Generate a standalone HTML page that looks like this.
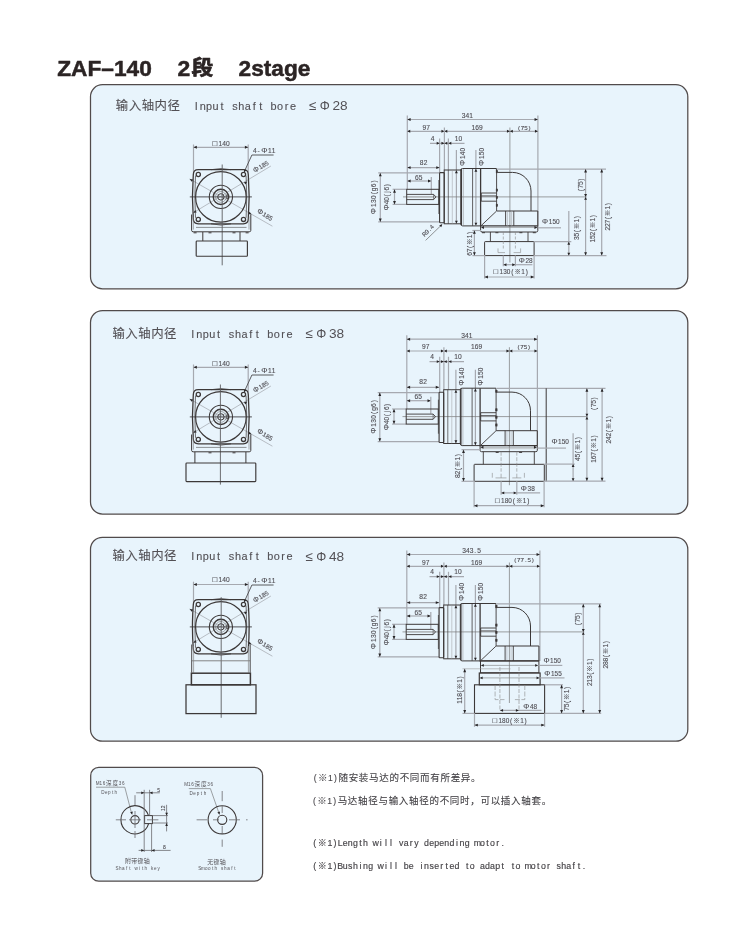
<!DOCTYPE html>
<html lang="zh-CN">
<head>
<meta charset="utf-8">
<title>ZAF-140 2段 2stage</title>
<style>
html,body{margin:0;padding:0;background:#fff;}
body{width:750px;height:927px;overflow:hidden;font-family:"Liberation Sans","Noto Sans CJK SC",sans-serif;}
svg{display:block;}
text{white-space:pre;}
</style>
</head>
<body>
<svg width="750" height="927" viewBox="0 0 750 927" font-family='"Liberation Sans","Noto Sans CJK SC",sans-serif'>
<defs><filter id="soft" x="0" y="0" width="100%" height="100%" filterUnits="userSpaceOnUse" color-interpolation-filters="sRGB"><feGaussianBlur stdDeviation="0.55"/></filter><filter id="soft2" x="0" y="0" width="100%" height="100%" filterUnits="userSpaceOnUse" color-interpolation-filters="sRGB"><feGaussianBlur stdDeviation="0.4"/></filter></defs>
<rect width="750" height="927" fill="#fff"/>
<g filter="url(#soft2)">
<text x="57.2" y="75.5" font-size="22.9" text-anchor="start" font-weight="bold" textLength="94.6" lengthAdjust="spacingAndGlyphs" stroke="#2b2424" stroke-width="0.5" stroke-linejoin="round" fill="#2b2424">ZAF–140</text>
<text x="177.6" y="75.5" font-size="22.9" font-weight="bold" stroke="#2b2424" stroke-width="0.5" stroke-linejoin="round" fill="#2b2424">2<tspan x="191.4" y="75.1" font-size="20.6" stroke-width="0.75" textLength="21.8" lengthAdjust="spacingAndGlyphs">段</tspan></text>
<text x="238.6" y="75.5" font-size="22.9" text-anchor="start" font-weight="bold" textLength="71.8" lengthAdjust="spacingAndGlyphs" stroke="#2b2424" stroke-width="0.5" stroke-linejoin="round" fill="#2b2424">2stage</text>
<rect x="90.5" y="84.7" width="597.3" height="204.1" rx="12" fill="#e8f4fc" stroke="#514b4b" stroke-width="1.25"/>
<rect x="90.5" y="310.5" width="597.3" height="203.5" rx="12" fill="#e8f4fc" stroke="#514b4b" stroke-width="1.25"/>
<rect x="90.5" y="537.3" width="597.3" height="203.9" rx="12" fill="#e8f4fc" stroke="#514b4b" stroke-width="1.25"/>
<rect x="90.7" y="767.4" width="171.9" height="113.8" rx="8" fill="#e8f4fc" stroke="#514b4b" stroke-width="1.25"/>
<text x="122.05 134.95 147.85 160.75 173.65 183.33 189.78 196.22 202.67 209.12 215.57 222.02 228.47 234.92 241.37 247.82 254.27 260.72 267.17 273.62 280.07 286.52 292.97" y="109.8" font-size="10.9" text-anchor="middle" stroke="#535156" stroke-width="0.12" fill="#535156"><tspan font-size="12.4">输</tspan><tspan font-size="12.4">入</tspan><tspan font-size="12.4">轴</tspan><tspan font-size="12.4">内</tspan><tspan font-size="12.4">径</tspan>  Input shaft bore</text>
<text y="110.0" font-size="12.6" fill="#535156"><tspan x="312.6" text-anchor="middle" font-size="13.4">≤</tspan><tspan x="324.8" text-anchor="middle">Φ</tspan><tspan x="332.4" text-anchor="start" textLength="15.2" lengthAdjust="spacingAndGlyphs">28</tspan></text>
<text x="118.65 131.55 144.45 157.35 170.25 179.93 186.38 192.82 199.27 205.72 212.17 218.62 225.07 231.52 237.97 244.42 250.87 257.32 263.77 270.22 276.67 283.12 289.57" y="337.9" font-size="10.9" text-anchor="middle" stroke="#535156" stroke-width="0.12" fill="#535156"><tspan font-size="12.4">输</tspan><tspan font-size="12.4">入</tspan><tspan font-size="12.4">轴</tspan><tspan font-size="12.4">内</tspan><tspan font-size="12.4">径</tspan>  Input shaft bore</text>
<text y="338.1" font-size="12.6" fill="#535156"><tspan x="309.2" text-anchor="middle" font-size="13.4">≤</tspan><tspan x="321.4" text-anchor="middle">Φ</tspan><tspan x="329.0" text-anchor="start" textLength="15.2" lengthAdjust="spacingAndGlyphs">38</tspan></text>
<text x="118.65 131.55 144.45 157.35 170.25 179.93 186.38 192.82 199.27 205.72 212.17 218.62 225.07 231.52 237.97 244.42 250.87 257.32 263.77 270.22 276.67 283.12 289.57" y="560.4" font-size="10.9" text-anchor="middle" stroke="#535156" stroke-width="0.12" fill="#535156"><tspan font-size="12.4">输</tspan><tspan font-size="12.4">入</tspan><tspan font-size="12.4">轴</tspan><tspan font-size="12.4">内</tspan><tspan font-size="12.4">径</tspan>  Input shaft bore</text>
<text y="560.6" font-size="12.6" fill="#535156"><tspan x="309.2" text-anchor="middle" font-size="13.4">≤</tspan><tspan x="321.4" text-anchor="middle">Φ</tspan><tspan x="329.0" text-anchor="start" textLength="15.2" lengthAdjust="spacingAndGlyphs">48</tspan></text>
</g>
<g filter="url(#soft)" stroke-linecap="butt">
<line x1="193.5" y1="144.5" x2="193.5" y2="172.0" stroke="#a6a9b0" stroke-width="1.2"/>
<line x1="248.2" y1="144.5" x2="248.2" y2="172.0" stroke="#a6a9b0" stroke-width="1.2"/>
<line x1="193.5" y1="147.3" x2="248.2" y2="147.3" stroke="#a6a9b0" stroke-width="1.2"/>
<path d="M193.50 147.30L196.83 145.87L196.83 148.73Z" fill="#262426"/>
<path d="M248.20 147.30L244.87 148.73L244.87 145.87Z" fill="#262426"/>
<text x="214.77 220.40 224.15 227.90" y="146.0" font-size="6.656000000000001" text-anchor="middle" stroke="#504e54" stroke-width="0.12" fill="#504e54"><tspan font-size="7.85">□</tspan>140</text>
<text x="254.92 258.67 264.30 269.93 273.68" y="153.0" font-size="6.656000000000001" text-anchor="middle" stroke="#504e54" stroke-width="0.12" fill="#504e54">4-<tspan font-size="7.85">Φ</tspan>11</text>
<path d="M273.6 155.0H251.9L244.6 171.0" fill="none" stroke="#4a4a4c" stroke-width="0.9"/>
<path d="M244.00 172.60L244.03 169.18L246.52 170.29Z" fill="#262426"/>
<line x1="189.6" y1="178.9" x2="272.4" y2="226.2" stroke="#a6a9b0" stroke-width="0.75"/>
<line x1="193.4" y1="212.7" x2="270.9" y2="166.0" stroke="#a6a9b0" stroke-width="0.75"/>
<path d="M189.60 178.90L193.17 179.38L191.80 181.75Z" fill="#262426"/>
<path d="M251.60 214.50L248.20 214.11L249.57 211.75Z" fill="#262426"/>
<path d="M247.20 181.80L245.34 184.45L243.97 182.09Z" fill="#262426"/>
<path d="M193.40 212.70L195.26 210.05L196.63 212.41Z" fill="#262426"/>
<text x="255.32 260.60 264.12 267.63" y="169.0" font-size="6.24" text-anchor="middle" transform="rotate(-31 260.6 166.8)" stroke="#504e54" stroke-width="0.12" fill="#504e54"><tspan font-size="7.36">Φ</tspan>185</text>
<text x="259.32 264.60 268.12 271.63" y="216.8" font-size="6.24" text-anchor="middle" transform="rotate(31 264.6 214.6)" stroke="#504e54" stroke-width="0.12" fill="#504e54"><tspan font-size="7.36">Φ</tspan>185</text>
<line x1="189.8" y1="196.9" x2="251.9" y2="196.9" stroke="#505054" stroke-width="1.0"/>
<path d="M198.3 169.7H243.3Q248.3 169.7 248.3 174.7Q250.0 196.9 248.3 218.8Q248.3 223.8 243.3 223.8H198.3Q193.3 223.8 193.3 218.8Q191.6 196.9 193.3 174.7Q193.3 169.7 198.3 169.7Z" fill="none" stroke="#3c3838" stroke-width="1.3"/>
<path d="M195.5 175.7Q194.2 196.9 195.5 217.8" fill="none" stroke="#3c3838" stroke-width="0.7"/>
<path d="M246.1 175.7Q247.4 196.9 246.1 217.8" fill="none" stroke="#3c3838" stroke-width="0.7"/>
<path d="M211.0 169.7Q221.0 167.5 231.0 169.7" fill="none" stroke="#3c3838" stroke-width="0.8"/>
<path d="M211.0 223.8Q221.0 226.4 231.0 223.8" fill="none" stroke="#3c3838" stroke-width="0.8"/>
<circle cx="220.9" cy="196.9" r="25.3" fill="none" stroke="#3c3838" stroke-width="1.2"/>
<circle cx="220.9" cy="196.9" r="11.6" fill="none" stroke="#3c3838" stroke-width="1.1"/>
<circle cx="220.9" cy="196.9" r="7.6" fill="none" stroke="#3c3838" stroke-width="1.4"/>
<circle cx="220.9" cy="196.9" r="5.4" fill="none" stroke="#777" stroke-width="0.6"/>
<circle cx="220.9" cy="196.9" r="3.2" fill="none" stroke="#3c3838" stroke-width="1.0"/>
<rect x="226.2" y="195.0" width="2.8" height="3.6" rx="0" fill="none" stroke="#3c3838" stroke-width="0.6"/>
<circle cx="198.3" cy="174.5" r="2.1" fill="none" stroke="#3c3838" stroke-width="1.3"/>
<circle cx="243.5" cy="174.5" r="2.1" fill="none" stroke="#3c3838" stroke-width="1.3"/>
<circle cx="198.3" cy="219.4" r="2.1" fill="none" stroke="#3c3838" stroke-width="1.3"/>
<circle cx="243.5" cy="219.4" r="2.1" fill="none" stroke="#3c3838" stroke-width="1.3"/>
<line x1="222.2" y1="164.5" x2="222.2" y2="265.3" stroke="#5c5c60" stroke-width="0.9"/>
<path d="M191.6 214.5V230.4Q191.6 231.8 193.2 231.8H249.2Q250.8 231.8 250.8 230.4V214.5" fill="none" stroke="#3c3838" stroke-width="1.0"/>
<line x1="193.4" y1="216.4" x2="193.4" y2="229.6" stroke="#777" stroke-width="0.6"/>
<line x1="249.0" y1="216.4" x2="249.0" y2="229.6" stroke="#777" stroke-width="0.6"/>
<line x1="196.0" y1="227.4" x2="246.5" y2="227.4" stroke="#666" stroke-width="0.7"/>
<line x1="202.8" y1="232.0" x2="202.8" y2="241.0" stroke="#3c3838" stroke-width="1.0"/>
<line x1="240.0" y1="232.0" x2="240.0" y2="241.0" stroke="#3c3838" stroke-width="1.0"/>
<line x1="193.6" y1="232.8" x2="196.6" y2="232.8" stroke="#3c3838" stroke-width="1.0"/>
<line x1="208.5" y1="232.8" x2="211.5" y2="232.8" stroke="#3c3838" stroke-width="1.0"/>
<line x1="232.5" y1="232.8" x2="235.5" y2="232.8" stroke="#3c3838" stroke-width="1.0"/>
<line x1="245.6" y1="232.8" x2="248.6" y2="232.8" stroke="#3c3838" stroke-width="1.0"/>
<rect x="196.2" y="241.0" width="51.2" height="15.2" rx="0.8" fill="none" stroke="#3c3838" stroke-width="1.15"/>
<line x1="407.3" y1="115.6" x2="407.3" y2="189.3" stroke="#a6a9b0" stroke-width="1.2"/>
<line x1="537.9" y1="115.6" x2="537.9" y2="226.0" stroke="#a6a9b0" stroke-width="1.2"/>
<line x1="407.3" y1="119.5" x2="537.9" y2="119.5" stroke="#a6a9b0" stroke-width="1.2"/>
<path d="M407.30 119.50L410.63 118.07L410.63 120.93Z" fill="#262426"/>
<path d="M537.90 119.50L534.57 120.93L534.57 118.07Z" fill="#262426"/>
<text x="463.65 467.40 471.15" y="118.4" font-size="6.656000000000001" text-anchor="middle" stroke="#504e54" stroke-width="0.12" fill="#504e54">341</text>
<line x1="407.3" y1="131.3" x2="537.9" y2="131.3" stroke="#a6a9b0" stroke-width="1.2"/>
<path d="M407.30 131.30L410.24 129.87L410.24 132.73Z" fill="#262426"/>
<path d="M444.40 131.30L441.46 132.73L441.46 129.87Z" fill="#262426"/>
<path d="M444.40 131.30L447.34 129.87L447.34 132.73Z" fill="#262426"/>
<path d="M509.90 131.30L506.96 132.73L506.96 129.87Z" fill="#262426"/>
<path d="M509.90 131.30L512.84 129.87L512.84 132.73Z" fill="#262426"/>
<path d="M537.90 131.30L534.96 132.73L534.96 129.87Z" fill="#262426"/>
<text x="424.32 428.08" y="129.7" font-size="6.656000000000001" text-anchor="middle" stroke="#504e54" stroke-width="0.12" fill="#504e54">97</text>
<text x="473.45 477.20 480.95" y="129.7" font-size="6.656000000000001" text-anchor="middle" stroke="#504e54" stroke-width="0.12" fill="#504e54">169</text>
<text x="519.02 522.54 526.06 529.58" y="129.7" font-size="6.24" text-anchor="middle" stroke="#504e54" stroke-width="0.12" fill="#504e54">(75)</text>
<line x1="444.4" y1="127.5" x2="444.4" y2="170.0" stroke="#a6a9b0" stroke-width="1.2"/>
<line x1="430.0" y1="143.3" x2="464.5" y2="143.3" stroke="#a6a9b0" stroke-width="1.2"/>
<line x1="439.6" y1="138.5" x2="439.6" y2="172.5" stroke="#a6a9b0" stroke-width="1.2"/>
<line x1="448.4" y1="138.5" x2="448.4" y2="170.0" stroke="#a6a9b0" stroke-width="1.2"/>
<path d="M439.60 143.30L436.66 144.73L436.66 141.87Z" fill="#262426"/>
<path d="M444.40 143.30L447.34 141.87L447.34 144.73Z" fill="#262426"/>
<path d="M444.40 143.30L441.46 144.73L441.46 141.87Z" fill="#262426"/>
<path d="M448.40 143.30L451.34 141.87L451.34 144.73Z" fill="#262426"/>
<text x="432.60" y="140.8" font-size="6.656000000000001" text-anchor="middle" stroke="#504e54" stroke-width="0.12" fill="#504e54">4</text>
<text x="456.52 460.28" y="140.8" font-size="6.656000000000001" text-anchor="middle" stroke="#504e54" stroke-width="0.12" fill="#504e54">10</text>
<line x1="456.4" y1="150.0" x2="456.4" y2="223.8" stroke="#a6a9b0" stroke-width="1.2"/>
<path d="M456.40 170.20L457.83 173.14L454.97 173.14Z" fill="#262426"/>
<path d="M456.40 223.60L454.97 220.66L457.83 220.66Z" fill="#262426"/>
<line x1="475.9" y1="150.0" x2="475.9" y2="225.2" stroke="#a6a9b0" stroke-width="1.2"/>
<path d="M475.90 168.80L477.33 171.74L474.47 171.74Z" fill="#262426"/>
<path d="M475.90 225.60L474.47 222.66L477.33 222.66Z" fill="#262426"/>
<text x="456.57 462.20 465.95 469.70" y="159.6" font-size="6.656000000000001" text-anchor="middle" transform="rotate(-90 462.2 157.2)" stroke="#504e54" stroke-width="0.12" fill="#504e54"><tspan font-size="7.85">Φ</tspan>140</text>
<text x="475.97 481.60 485.35 489.10" y="159.6" font-size="6.656000000000001" text-anchor="middle" transform="rotate(-90 481.6 157.2)" stroke="#504e54" stroke-width="0.12" fill="#504e54"><tspan font-size="7.85">Φ</tspan>150</text>
<line x1="407.3" y1="167.6" x2="439.6" y2="167.6" stroke="#a6a9b0" stroke-width="1.2"/>
<path d="M407.30 167.60L410.63 166.17L410.63 169.03Z" fill="#262426"/>
<path d="M439.60 167.60L436.27 169.03L436.27 166.17Z" fill="#262426"/>
<text x="421.72 425.48" y="165.4" font-size="6.656000000000001" text-anchor="middle" stroke="#504e54" stroke-width="0.12" fill="#504e54">82</text>
<line x1="407.3" y1="181.0" x2="431.3" y2="181.0" stroke="#a6a9b0" stroke-width="1.2"/>
<path d="M407.30 181.00L410.63 179.57L410.63 182.43Z" fill="#262426"/>
<path d="M431.30 181.00L427.97 182.43L427.97 179.57Z" fill="#262426"/>
<text x="416.92 420.68" y="179.6" font-size="6.656000000000001" text-anchor="middle" stroke="#504e54" stroke-width="0.12" fill="#504e54">65</text>
<line x1="431.3" y1="177.0" x2="431.3" y2="194.0" stroke="#a6a9b0" stroke-width="1.2"/>
<line x1="392.6" y1="189.3" x2="406.7" y2="189.3" stroke="#a6a9b0" stroke-width="1.2"/>
<line x1="392.6" y1="204.4" x2="406.7" y2="204.4" stroke="#a6a9b0" stroke-width="1.2"/>
<line x1="394.5" y1="189.3" x2="394.5" y2="204.4" stroke="#a6a9b0" stroke-width="1.2"/>
<path d="M394.50 189.30L395.93 192.63L393.07 192.63Z" fill="#262426"/>
<path d="M394.50 204.40L393.07 201.07L395.93 201.07Z" fill="#262426"/>
<text x="376.65 381.82 385.27 388.72 392.17 395.62 399.07" y="199.5" font-size="6.448" text-anchor="middle" transform="rotate(-90 387.0 197.2)" stroke="#504e54" stroke-width="0.12" fill="#504e54"><tspan font-size="7.61">Φ</tspan>40(j6)</text>
<line x1="378.2" y1="172.9" x2="439.5" y2="172.9" stroke="#a6a9b0" stroke-width="1.2"/>
<line x1="378.2" y1="221.9" x2="439.5" y2="221.9" stroke="#a6a9b0" stroke-width="1.2"/>
<line x1="380.3" y1="172.9" x2="380.3" y2="221.9" stroke="#a6a9b0" stroke-width="1.2"/>
<path d="M380.30 172.90L381.73 176.23L378.87 176.23Z" fill="#262426"/>
<path d="M380.30 221.90L378.87 218.57L381.73 218.57Z" fill="#262426"/>
<text x="359.98 365.90 369.85 373.80 377.75 381.70 385.65 389.60" y="199.6" font-size="6.656000000000001" text-anchor="middle" transform="rotate(-90 373.8 197.2)" stroke="#504e54" stroke-width="0.12" fill="#504e54"><tspan font-size="7.85">Φ</tspan>130(g6)</text>
<line x1="442.1" y1="224.4" x2="425.6" y2="240.4" stroke="#666" stroke-width="0.7"/>
<path d="M442.30 224.20L441.23 227.29L439.21 225.27Z" fill="#262426"/>
<text x="422.90 426.30 429.70 433.10" y="232.6" font-size="6.032" text-anchor="middle" transform="rotate(-45 428.0 230.4)" stroke="#504e54" stroke-width="0.12" fill="#504e54">R9.4</text>
<line x1="403.0" y1="196.9" x2="586.6" y2="196.9" stroke="#777" stroke-width="0.7"/>
<line x1="509.9" y1="127.5" x2="509.9" y2="262.5" stroke="#777" stroke-width="0.7"/>
<rect x="406.7" y="189.3" width="32.1" height="15.1" rx="0" fill="none" stroke="#3c3838" stroke-width="1.0"/>
<path d="M406.7 194.4H433.6L436.0 196.9L433.6 199.6H406.7" fill="none" stroke="#3c3838" stroke-width="0.9"/>
<line x1="433.6" y1="194.4" x2="433.6" y2="199.6" stroke="#3c3838" stroke-width="0.6"/>
<line x1="408.0" y1="197.0" x2="433.0" y2="197.0" stroke="#aaa" stroke-width="0.5"/>
<rect x="439.6" y="172.6" width="4.6" height="50.2" rx="0.8" fill="none" stroke="#3c3838" stroke-width="1.1"/>
<line x1="438.9" y1="180.0" x2="438.9" y2="214.0" stroke="#3c3838" stroke-width="0.8"/>
<rect x="444.2" y="170.0" width="16.6" height="53.8" rx="0" fill="none" stroke="#3c3838" stroke-width="1.0"/>
<line x1="448.3" y1="170.0" x2="448.3" y2="223.8" stroke="#3c3838" stroke-width="0.7"/>
<line x1="452.3" y1="170.0" x2="452.3" y2="223.8" stroke="#9a9a9e" stroke-width="0.5"/>
<path d="M460.8 170.0Q460.8 168.5 462.6 168.5H496.4V170.2" fill="none" stroke="#3c3838" stroke-width="1.0"/>
<path d="M460.8 223.8Q460.8 225.9 462.6 225.9H481.0" fill="none" stroke="#3c3838" stroke-width="1.0"/>
<line x1="461.4" y1="169.0" x2="461.4" y2="225.0" stroke="#3c3838" stroke-width="1.3"/>
<line x1="463.4" y1="169.0" x2="463.4" y2="225.0" stroke="#8a8a8e" stroke-width="0.5"/>
<line x1="472.6" y1="168.5" x2="472.6" y2="225.9" stroke="#3c3838" stroke-width="0.8"/>
<line x1="480.6" y1="168.5" x2="480.6" y2="226.5" stroke="#3c3838" stroke-width="1.3"/>
<line x1="496.6" y1="170.0" x2="496.6" y2="211.0" stroke="#3c3838" stroke-width="0.9"/>
<rect x="496.2" y="170.6" width="1.4" height="2.2" rx="0" fill="#3c3838" stroke="#3c3838" stroke-width="0.6"/>
<rect x="496.2" y="189.0" width="1.4" height="2.2" rx="0" fill="#3c3838" stroke="#3c3838" stroke-width="0.6"/>
<rect x="496.2" y="196.4" width="1.4" height="2.2" rx="0" fill="#3c3838" stroke="#3c3838" stroke-width="0.6"/>
<rect x="496.2" y="204.2" width="1.4" height="2.2" rx="0" fill="#3c3838" stroke="#3c3838" stroke-width="0.6"/>
<path d="M496.6 193.0H481.2V201.2H496.6" fill="none" stroke="#3c3838" stroke-width="0.9"/>
<line x1="481.2" y1="195.9" x2="496.6" y2="195.9" stroke="#3c3838" stroke-width="0.8"/>
<path d="M497.6 172.4H512.5C523.0 172.4 531.0 181.0 531.0 191.0V211.0" fill="none" stroke="#3c3838" stroke-width="1.0"/>
<path d="M496.6 211.0H537.8V225.9" fill="none" stroke="#3c3838" stroke-width="1.0"/>
<line x1="481.0" y1="225.9" x2="537.8" y2="225.9" stroke="#3c3838" stroke-width="1.3"/>
<line x1="481.2" y1="225.6" x2="496.4" y2="211.2" stroke="#3c3838" stroke-width="0.9"/>
<line x1="505.6" y1="211.0" x2="505.6" y2="225.9" stroke="#3c3838" stroke-width="0.9"/>
<line x1="507.4" y1="211.0" x2="507.4" y2="225.9" stroke="#9a9a9e" stroke-width="0.5"/>
<line x1="511.6" y1="211.0" x2="511.6" y2="225.9" stroke="#9a9a9e" stroke-width="0.5"/>
<line x1="513.8" y1="211.0" x2="513.8" y2="225.9" stroke="#3c3838" stroke-width="0.9"/>
<path d="M480.6 225.9V230.6Q480.6 232.0 482.0 232.0H536.4Q537.8 232.0 537.8 230.6V225.9" fill="none" stroke="#3c3838" stroke-width="1.0"/>
<line x1="482.0" y1="227.5" x2="536.5" y2="227.5" stroke="#888" stroke-width="0.6"/>
<path d="M481.00 227.50L483.94 226.07L483.94 228.93Z" fill="#262426"/>
<path d="M537.40 227.50L534.46 228.93L534.46 226.07Z" fill="#262426"/>
<line x1="482.0" y1="232.7" x2="485.0" y2="232.7" stroke="#3c3838" stroke-width="1.0"/>
<line x1="495.4" y1="232.7" x2="498.4" y2="232.7" stroke="#3c3838" stroke-width="1.0"/>
<line x1="519.4" y1="232.7" x2="522.4" y2="232.7" stroke="#3c3838" stroke-width="1.0"/>
<line x1="532.8" y1="232.7" x2="535.8" y2="232.7" stroke="#3c3838" stroke-width="1.0"/>
<line x1="490.4" y1="232.0" x2="490.4" y2="241.6" stroke="#3c3838" stroke-width="0.9"/>
<line x1="528.0" y1="232.0" x2="528.0" y2="241.6" stroke="#3c3838" stroke-width="0.9"/>
<rect x="484.6" y="241.6" width="49.5" height="14.0" rx="0.6" fill="none" stroke="#3c3838" stroke-width="1.0"/>
<line x1="503.3" y1="232.0" x2="503.3" y2="250.0" stroke="#888" stroke-width="0.6" stroke-dasharray="3 1.5"/>
<line x1="515.4" y1="232.0" x2="515.4" y2="250.0" stroke="#888" stroke-width="0.6" stroke-dasharray="3 1.5"/>
<path d="M498.0 248.4V252.6H505.0" fill="none" stroke="#888" stroke-width="0.6"/>
<path d="M520.6 248.4V252.6H513.6" fill="none" stroke="#888" stroke-width="0.6"/>
<line x1="472.4" y1="230.5" x2="481.0" y2="230.5" stroke="#a6a9b0" stroke-width="1.2"/>
<line x1="472.4" y1="255.6" x2="484.6" y2="255.6" stroke="#a6a9b0" stroke-width="1.2"/>
<line x1="474.4" y1="230.5" x2="474.4" y2="255.6" stroke="#a6a9b0" stroke-width="1.2"/>
<path d="M474.40 230.50L475.83 233.83L472.97 233.83Z" fill="#262426"/>
<path d="M474.40 255.60L472.97 252.27L475.83 252.27Z" fill="#262426"/>
<text x="458.90 462.40 465.90 471.15 476.40 479.90" y="245.8" font-size="6.656000000000001" text-anchor="middle" transform="rotate(-90 469.4 243.4)" stroke="#504e54" stroke-width="0.12" fill="#504e54">67(※1)</text>
<line x1="503.3" y1="255.6" x2="503.3" y2="266.2" stroke="#a6a9b0" stroke-width="1.2"/>
<line x1="515.4" y1="255.6" x2="515.4" y2="266.2" stroke="#a6a9b0" stroke-width="1.2"/>
<line x1="503.3" y1="264.7" x2="532.4" y2="264.7" stroke="#a6a9b0" stroke-width="1.2"/>
<path d="M503.50 264.70L506.44 263.27L506.44 266.13Z" fill="#262426"/>
<path d="M515.20 264.70L512.26 266.13L512.26 263.27Z" fill="#262426"/>
<text x="521.77 527.22 530.85" y="262.9" font-size="6.448" text-anchor="middle" stroke="#504e54" stroke-width="0.12" fill="#504e54"><tspan font-size="7.61">Φ</tspan>28</text>
<line x1="484.6" y1="255.6" x2="484.6" y2="278.6" stroke="#a6a9b0" stroke-width="1.2"/>
<line x1="534.1" y1="255.6" x2="534.1" y2="278.6" stroke="#a6a9b0" stroke-width="1.2"/>
<line x1="484.6" y1="277.0" x2="534.1" y2="277.0" stroke="#a6a9b0" stroke-width="1.2"/>
<path d="M484.60 277.00L487.93 275.57L487.93 278.43Z" fill="#262426"/>
<path d="M534.10 277.00L530.77 278.43L530.77 275.57Z" fill="#262426"/>
<text x="495.86 501.31 504.95 508.58 512.22 517.67 523.12 526.75" y="274.3" font-size="6.448" text-anchor="middle" stroke="#504e54" stroke-width="0.12" fill="#504e54"><tspan font-size="7.61">□</tspan>130(※1)</text>
<line x1="497.0" y1="169.1" x2="606.0" y2="169.1" stroke="#a6a9b0" stroke-width="1.2"/>
<line x1="534.1" y1="241.7" x2="571.3" y2="241.7" stroke="#a6a9b0" stroke-width="1.2"/>
<line x1="534.1" y1="255.6" x2="606.5" y2="255.6" stroke="#a6a9b0" stroke-width="1.2"/>
<line x1="585.6" y1="169.1" x2="585.6" y2="255.6" stroke="#a6a9b0" stroke-width="1.2"/>
<path d="M585.60 169.10L587.03 172.43L584.17 172.43Z" fill="#262426"/>
<path d="M585.60 196.90L584.17 193.96L587.03 193.96Z" fill="#262426"/>
<path d="M585.60 196.90L587.03 199.84L584.17 199.84Z" fill="#262426"/>
<path d="M585.60 255.60L584.17 252.27L587.03 252.27Z" fill="#262426"/>
<line x1="601.7" y1="169.1" x2="601.7" y2="255.6" stroke="#a6a9b0" stroke-width="1.2"/>
<path d="M601.70 169.10L603.13 172.43L600.27 172.43Z" fill="#262426"/>
<path d="M601.70 255.60L600.27 252.27L603.13 252.27Z" fill="#262426"/>
<line x1="568.8" y1="211.0" x2="568.8" y2="255.6" stroke="#a6a9b0" stroke-width="1.2"/>
<path d="M568.80 241.70L570.23 244.64L567.37 244.64Z" fill="#262426"/>
<path d="M568.80 255.60L567.37 252.66L570.23 252.66Z" fill="#262426"/>
<text x="575.15 578.65 582.15 585.65" y="187.2" font-size="6.656000000000001" text-anchor="middle" transform="rotate(-90 580.4 184.8)" stroke="#504e54" stroke-width="0.12" fill="#504e54">(75)</text>
<text x="565.90 569.40 572.90 578.15 583.40 586.90" y="230.0" font-size="6.656000000000001" text-anchor="middle" transform="rotate(-90 576.4 227.6)" stroke="#504e54" stroke-width="0.12" fill="#504e54">35(※1)</text>
<text x="580.35 583.85 587.35 590.85 596.10 601.35 604.85" y="230.8" font-size="6.656000000000001" text-anchor="middle" transform="rotate(-90 592.6 228.4)" stroke="#504e54" stroke-width="0.12" fill="#504e54">152(※1)</text>
<text x="595.75 599.25 602.75 606.25 611.50 616.75 620.25" y="218.8" font-size="6.656000000000001" text-anchor="middle" transform="rotate(-90 608.0 216.4)" stroke="#504e54" stroke-width="0.12" fill="#504e54">227(※1)</text>
<text x="545.15 550.60 554.23 557.87" y="224.3" font-size="6.448" text-anchor="middle" stroke="#504e54" stroke-width="0.12" fill="#504e54"><tspan font-size="7.61">Φ</tspan>150</text>
<line x1="537.8" y1="227.8" x2="561.0" y2="227.8" stroke="#a6a9b0" stroke-width="1.2"/>
<line x1="193.5" y1="364.5" x2="193.5" y2="392.0" stroke="#a6a9b0" stroke-width="1.2"/>
<line x1="248.2" y1="364.5" x2="248.2" y2="392.0" stroke="#a6a9b0" stroke-width="1.2"/>
<line x1="193.5" y1="367.3" x2="248.2" y2="367.3" stroke="#a6a9b0" stroke-width="1.2"/>
<path d="M193.50 367.30L196.83 365.87L196.83 368.73Z" fill="#262426"/>
<path d="M248.20 367.30L244.87 368.73L244.87 365.87Z" fill="#262426"/>
<text x="214.77 220.40 224.15 227.90" y="366.0" font-size="6.656000000000001" text-anchor="middle" stroke="#504e54" stroke-width="0.12" fill="#504e54"><tspan font-size="7.85">□</tspan>140</text>
<text x="254.92 258.67 264.30 269.93 273.68" y="373.0" font-size="6.656000000000001" text-anchor="middle" stroke="#504e54" stroke-width="0.12" fill="#504e54">4-<tspan font-size="7.85">Φ</tspan>11</text>
<path d="M273.6 375.0H251.9L244.6 391.0" fill="none" stroke="#4a4a4c" stroke-width="0.9"/>
<path d="M244.00 392.60L244.03 389.18L246.52 390.29Z" fill="#262426"/>
<line x1="189.6" y1="398.9" x2="272.4" y2="446.2" stroke="#a6a9b0" stroke-width="0.75"/>
<line x1="193.4" y1="432.7" x2="270.9" y2="386.0" stroke="#a6a9b0" stroke-width="0.75"/>
<path d="M189.60 398.90L193.17 399.38L191.80 401.75Z" fill="#262426"/>
<path d="M251.60 434.50L248.20 434.11L249.57 431.75Z" fill="#262426"/>
<path d="M247.20 401.80L245.34 404.45L243.97 402.09Z" fill="#262426"/>
<path d="M193.40 432.70L195.26 430.05L196.63 432.41Z" fill="#262426"/>
<text x="255.32 260.60 264.12 267.63" y="389.0" font-size="6.24" text-anchor="middle" transform="rotate(-31 260.6 386.8)" stroke="#504e54" stroke-width="0.12" fill="#504e54"><tspan font-size="7.36">Φ</tspan>185</text>
<text x="259.32 264.60 268.12 271.63" y="436.8" font-size="6.24" text-anchor="middle" transform="rotate(31 264.6 434.6)" stroke="#504e54" stroke-width="0.12" fill="#504e54"><tspan font-size="7.36">Φ</tspan>185</text>
<line x1="189.8" y1="416.9" x2="251.9" y2="416.9" stroke="#505054" stroke-width="1.0"/>
<path d="M198.3 389.7H243.3Q248.3 389.7 248.3 394.7Q250.0 416.9 248.3 438.8Q248.3 443.8 243.3 443.8H198.3Q193.3 443.8 193.3 438.8Q191.6 416.9 193.3 394.7Q193.3 389.7 198.3 389.7Z" fill="none" stroke="#3c3838" stroke-width="1.3"/>
<path d="M195.5 395.7Q194.2 416.9 195.5 437.8" fill="none" stroke="#3c3838" stroke-width="0.7"/>
<path d="M246.1 395.7Q247.4 416.9 246.1 437.8" fill="none" stroke="#3c3838" stroke-width="0.7"/>
<path d="M211.0 389.7Q221.0 387.5 231.0 389.7" fill="none" stroke="#3c3838" stroke-width="0.8"/>
<path d="M211.0 443.8Q221.0 446.4 231.0 443.8" fill="none" stroke="#3c3838" stroke-width="0.8"/>
<circle cx="220.9" cy="416.9" r="25.3" fill="none" stroke="#3c3838" stroke-width="1.2"/>
<circle cx="220.9" cy="416.9" r="11.6" fill="none" stroke="#3c3838" stroke-width="1.1"/>
<circle cx="220.9" cy="416.9" r="7.6" fill="none" stroke="#3c3838" stroke-width="1.4"/>
<circle cx="220.9" cy="416.9" r="5.4" fill="none" stroke="#777" stroke-width="0.6"/>
<circle cx="220.9" cy="416.9" r="3.2" fill="none" stroke="#3c3838" stroke-width="1.0"/>
<rect x="226.2" y="415.0" width="2.8" height="3.6" rx="0" fill="none" stroke="#3c3838" stroke-width="0.6"/>
<circle cx="198.3" cy="394.5" r="2.1" fill="none" stroke="#3c3838" stroke-width="1.3"/>
<circle cx="243.5" cy="394.5" r="2.1" fill="none" stroke="#3c3838" stroke-width="1.3"/>
<circle cx="198.3" cy="439.4" r="2.1" fill="none" stroke="#3c3838" stroke-width="1.3"/>
<circle cx="243.5" cy="439.4" r="2.1" fill="none" stroke="#3c3838" stroke-width="1.3"/>
<line x1="220.4" y1="384.5" x2="220.4" y2="484.6" stroke="#5c5c60" stroke-width="0.9"/>
<path d="M191.6 434.5V450.4Q191.6 451.8 193.2 451.8H249.2Q250.8 451.8 250.8 450.4V434.5" fill="none" stroke="#3c3838" stroke-width="1.0"/>
<line x1="193.4" y1="436.4" x2="193.4" y2="449.6" stroke="#777" stroke-width="0.6"/>
<line x1="249.0" y1="436.4" x2="249.0" y2="449.6" stroke="#777" stroke-width="0.6"/>
<line x1="196.0" y1="447.4" x2="246.5" y2="447.4" stroke="#666" stroke-width="0.7"/>
<line x1="194.9" y1="452.0" x2="194.9" y2="463.0" stroke="#3c3838" stroke-width="1.0"/>
<line x1="245.9" y1="452.0" x2="245.9" y2="463.0" stroke="#3c3838" stroke-width="1.0"/>
<line x1="208.5" y1="452.8" x2="211.5" y2="452.8" stroke="#3c3838" stroke-width="1.0"/>
<line x1="232.5" y1="452.8" x2="235.5" y2="452.8" stroke="#3c3838" stroke-width="1.0"/>
<rect x="186.0" y="463.0" width="69.8" height="18.6" rx="0.8" fill="none" stroke="#3c3838" stroke-width="1.15"/>
<line x1="406.8" y1="335.3" x2="406.8" y2="409.0" stroke="#a6a9b0" stroke-width="1.2"/>
<line x1="537.4" y1="335.3" x2="537.4" y2="445.7" stroke="#a6a9b0" stroke-width="1.2"/>
<line x1="406.8" y1="339.2" x2="537.4" y2="339.2" stroke="#a6a9b0" stroke-width="1.2"/>
<path d="M406.80 339.20L410.13 337.77L410.13 340.63Z" fill="#262426"/>
<path d="M537.40 339.20L534.07 340.63L534.07 337.77Z" fill="#262426"/>
<text x="463.15 466.90 470.65" y="338.1" font-size="6.656000000000001" text-anchor="middle" stroke="#504e54" stroke-width="0.12" fill="#504e54">341</text>
<line x1="406.8" y1="351.0" x2="537.4" y2="351.0" stroke="#a6a9b0" stroke-width="1.2"/>
<path d="M406.80 351.00L409.74 349.57L409.74 352.43Z" fill="#262426"/>
<path d="M443.90 351.00L440.96 352.43L440.96 349.57Z" fill="#262426"/>
<path d="M443.90 351.00L446.84 349.57L446.84 352.43Z" fill="#262426"/>
<path d="M509.40 351.00L506.46 352.43L506.46 349.57Z" fill="#262426"/>
<path d="M509.40 351.00L512.34 349.57L512.34 352.43Z" fill="#262426"/>
<path d="M537.40 351.00L534.46 352.43L534.46 349.57Z" fill="#262426"/>
<text x="423.82 427.58" y="349.4" font-size="6.656000000000001" text-anchor="middle" stroke="#504e54" stroke-width="0.12" fill="#504e54">97</text>
<text x="472.95 476.70 480.45" y="349.4" font-size="6.656000000000001" text-anchor="middle" stroke="#504e54" stroke-width="0.12" fill="#504e54">169</text>
<text x="518.52 522.04 525.56 529.08" y="349.4" font-size="6.24" text-anchor="middle" stroke="#504e54" stroke-width="0.12" fill="#504e54">(75)</text>
<line x1="443.9" y1="347.2" x2="443.9" y2="389.7" stroke="#a6a9b0" stroke-width="1.2"/>
<line x1="429.5" y1="361.6" x2="464.0" y2="361.6" stroke="#a6a9b0" stroke-width="1.2"/>
<line x1="439.7" y1="356.8" x2="439.7" y2="392.2" stroke="#a6a9b0" stroke-width="1.2"/>
<line x1="448.5" y1="356.8" x2="448.5" y2="389.7" stroke="#a6a9b0" stroke-width="1.2"/>
<path d="M439.70 361.60L436.76 363.03L436.76 360.17Z" fill="#262426"/>
<path d="M443.90 361.60L446.84 360.17L446.84 363.03Z" fill="#262426"/>
<path d="M443.90 361.60L440.96 363.03L440.96 360.17Z" fill="#262426"/>
<path d="M448.50 361.60L451.44 360.17L451.44 363.03Z" fill="#262426"/>
<text x="432.10" y="359.1" font-size="6.656000000000001" text-anchor="middle" stroke="#504e54" stroke-width="0.12" fill="#504e54">4</text>
<text x="456.02 459.78" y="359.1" font-size="6.656000000000001" text-anchor="middle" stroke="#504e54" stroke-width="0.12" fill="#504e54">10</text>
<line x1="455.9" y1="369.7" x2="455.9" y2="443.5" stroke="#a6a9b0" stroke-width="1.2"/>
<path d="M455.90 389.90L457.33 392.84L454.47 392.84Z" fill="#262426"/>
<path d="M455.90 443.30L454.47 440.36L457.33 440.36Z" fill="#262426"/>
<line x1="475.4" y1="369.7" x2="475.4" y2="444.9" stroke="#a6a9b0" stroke-width="1.2"/>
<path d="M475.40 388.50L476.83 391.44L473.97 391.44Z" fill="#262426"/>
<path d="M475.40 445.30L473.97 442.36L476.83 442.36Z" fill="#262426"/>
<text x="456.07 461.70 465.45 469.20" y="379.3" font-size="6.656000000000001" text-anchor="middle" transform="rotate(-90 461.7 376.9)" stroke="#504e54" stroke-width="0.12" fill="#504e54"><tspan font-size="7.85">Φ</tspan>140</text>
<text x="475.47 481.10 484.85 488.60" y="379.3" font-size="6.656000000000001" text-anchor="middle" transform="rotate(-90 481.1 376.9)" stroke="#504e54" stroke-width="0.12" fill="#504e54"><tspan font-size="7.85">Φ</tspan>150</text>
<line x1="406.8" y1="387.3" x2="439.1" y2="387.3" stroke="#a6a9b0" stroke-width="1.2"/>
<path d="M406.80 387.30L410.13 385.87L410.13 388.73Z" fill="#262426"/>
<path d="M439.10 387.30L435.77 388.73L435.77 385.87Z" fill="#262426"/>
<text x="421.22 424.98" y="383.6" font-size="6.656000000000001" text-anchor="middle" stroke="#504e54" stroke-width="0.12" fill="#504e54">82</text>
<line x1="406.8" y1="400.7" x2="430.8" y2="400.7" stroke="#a6a9b0" stroke-width="1.2"/>
<path d="M406.80 400.70L410.13 399.27L410.13 402.13Z" fill="#262426"/>
<path d="M430.80 400.70L427.47 402.13L427.47 399.27Z" fill="#262426"/>
<text x="416.42 420.18" y="399.3" font-size="6.656000000000001" text-anchor="middle" stroke="#504e54" stroke-width="0.12" fill="#504e54">65</text>
<line x1="430.8" y1="396.7" x2="430.8" y2="413.7" stroke="#a6a9b0" stroke-width="1.2"/>
<line x1="392.1" y1="409.0" x2="406.2" y2="409.0" stroke="#a6a9b0" stroke-width="1.2"/>
<line x1="392.1" y1="424.1" x2="406.2" y2="424.1" stroke="#a6a9b0" stroke-width="1.2"/>
<line x1="394.0" y1="409.0" x2="394.0" y2="424.1" stroke="#a6a9b0" stroke-width="1.2"/>
<path d="M394.00 409.00L395.43 412.33L392.57 412.33Z" fill="#262426"/>
<path d="M394.00 424.10L392.57 420.77L395.43 420.77Z" fill="#262426"/>
<text x="376.15 381.32 384.77 388.22 391.67 395.12 398.57" y="419.2" font-size="6.448" text-anchor="middle" transform="rotate(-90 386.5 416.9)" stroke="#504e54" stroke-width="0.12" fill="#504e54"><tspan font-size="7.61">Φ</tspan>40(j6)</text>
<line x1="377.7" y1="392.6" x2="439.0" y2="392.6" stroke="#a6a9b0" stroke-width="1.2"/>
<line x1="377.7" y1="441.6" x2="439.0" y2="441.6" stroke="#a6a9b0" stroke-width="1.2"/>
<line x1="379.8" y1="392.6" x2="379.8" y2="441.6" stroke="#a6a9b0" stroke-width="1.2"/>
<path d="M379.80 392.60L381.23 395.93L378.37 395.93Z" fill="#262426"/>
<path d="M379.80 441.60L378.37 438.27L381.23 438.27Z" fill="#262426"/>
<text x="359.48 365.40 369.35 373.30 377.25 381.20 385.15 389.10" y="419.3" font-size="6.656000000000001" text-anchor="middle" transform="rotate(-90 373.3 416.9)" stroke="#504e54" stroke-width="0.12" fill="#504e54"><tspan font-size="7.85">Φ</tspan>130(g6)</text>
<line x1="402.5" y1="416.6" x2="587.7" y2="416.6" stroke="#777" stroke-width="0.7"/>
<line x1="509.4" y1="347.2" x2="509.4" y2="485.2" stroke="#777" stroke-width="0.7"/>
<rect x="406.2" y="409.0" width="32.1" height="15.1" rx="0" fill="none" stroke="#3c3838" stroke-width="1.0"/>
<path d="M406.2 414.1H433.1L435.5 416.6L433.1 419.3H406.2" fill="none" stroke="#3c3838" stroke-width="0.9"/>
<line x1="433.1" y1="414.1" x2="433.1" y2="419.3" stroke="#3c3838" stroke-width="0.6"/>
<line x1="407.5" y1="416.7" x2="432.5" y2="416.7" stroke="#aaa" stroke-width="0.5"/>
<rect x="439.1" y="392.3" width="4.6" height="50.2" rx="0.8" fill="none" stroke="#3c3838" stroke-width="1.1"/>
<line x1="438.4" y1="399.7" x2="438.4" y2="433.7" stroke="#3c3838" stroke-width="0.8"/>
<rect x="443.7" y="389.7" width="16.6" height="53.8" rx="0" fill="none" stroke="#3c3838" stroke-width="1.0"/>
<line x1="447.8" y1="389.7" x2="447.8" y2="443.5" stroke="#3c3838" stroke-width="0.7"/>
<line x1="451.8" y1="389.7" x2="451.8" y2="443.5" stroke="#9a9a9e" stroke-width="0.5"/>
<path d="M460.3 389.7Q460.3 388.2 462.1 388.2H495.9V389.9" fill="none" stroke="#3c3838" stroke-width="1.0"/>
<path d="M460.3 443.5Q460.3 445.6 462.1 445.6H480.5" fill="none" stroke="#3c3838" stroke-width="1.0"/>
<line x1="460.9" y1="388.7" x2="460.9" y2="444.7" stroke="#3c3838" stroke-width="1.3"/>
<line x1="462.9" y1="388.7" x2="462.9" y2="444.7" stroke="#8a8a8e" stroke-width="0.5"/>
<line x1="472.1" y1="388.2" x2="472.1" y2="445.6" stroke="#3c3838" stroke-width="0.8"/>
<line x1="480.1" y1="388.2" x2="480.1" y2="446.2" stroke="#3c3838" stroke-width="1.3"/>
<line x1="496.1" y1="389.7" x2="496.1" y2="430.7" stroke="#3c3838" stroke-width="0.9"/>
<rect x="495.7" y="390.3" width="1.4" height="2.2" rx="0" fill="#3c3838" stroke="#3c3838" stroke-width="0.6"/>
<rect x="495.7" y="408.7" width="1.4" height="2.2" rx="0" fill="#3c3838" stroke="#3c3838" stroke-width="0.6"/>
<rect x="495.7" y="416.1" width="1.4" height="2.2" rx="0" fill="#3c3838" stroke="#3c3838" stroke-width="0.6"/>
<rect x="495.7" y="423.9" width="1.4" height="2.2" rx="0" fill="#3c3838" stroke="#3c3838" stroke-width="0.6"/>
<path d="M496.1 412.7H480.7V420.9H496.1" fill="none" stroke="#3c3838" stroke-width="0.9"/>
<line x1="480.7" y1="415.6" x2="496.1" y2="415.6" stroke="#3c3838" stroke-width="0.8"/>
<path d="M497.1 392.1H512.0C522.5 392.1 530.5 400.7 530.5 410.7V430.7" fill="none" stroke="#3c3838" stroke-width="1.0"/>
<path d="M496.1 430.7H537.3V445.6" fill="none" stroke="#3c3838" stroke-width="1.0"/>
<line x1="480.5" y1="445.6" x2="537.3" y2="445.6" stroke="#3c3838" stroke-width="1.3"/>
<line x1="480.7" y1="445.3" x2="495.9" y2="430.9" stroke="#3c3838" stroke-width="0.9"/>
<line x1="505.1" y1="430.7" x2="505.1" y2="445.6" stroke="#3c3838" stroke-width="0.9"/>
<line x1="506.9" y1="430.7" x2="506.9" y2="445.6" stroke="#9a9a9e" stroke-width="0.5"/>
<line x1="511.1" y1="430.7" x2="511.1" y2="445.6" stroke="#9a9a9e" stroke-width="0.5"/>
<line x1="513.3" y1="430.7" x2="513.3" y2="445.6" stroke="#3c3838" stroke-width="0.9"/>
<path d="M480.1 445.6V450.3Q480.1 451.7 481.5 451.7H535.9Q537.3 451.7 537.3 450.3V445.6" fill="none" stroke="#3c3838" stroke-width="1.0"/>
<line x1="481.5" y1="447.3" x2="536.0" y2="447.3" stroke="#888" stroke-width="0.6"/>
<line x1="481.5" y1="448.7" x2="536.0" y2="448.7" stroke="#aaa" stroke-width="0.6"/>
<path d="M480.50 447.30L483.44 445.87L483.44 448.73Z" fill="#262426"/>
<path d="M536.90 447.30L533.96 448.73L533.96 445.87Z" fill="#262426"/>
<line x1="495.7" y1="452.4" x2="498.7" y2="452.4" stroke="#3c3838" stroke-width="1.0"/>
<line x1="519.1" y1="452.4" x2="522.1" y2="452.4" stroke="#3c3838" stroke-width="1.0"/>
<line x1="483.3" y1="451.7" x2="483.3" y2="464.3" stroke="#3c3838" stroke-width="0.9"/>
<line x1="534.3" y1="451.7" x2="534.3" y2="464.3" stroke="#3c3838" stroke-width="0.9"/>
<rect x="474.1" y="464.3" width="70.2" height="17.0" rx="0.6" fill="none" stroke="#3c3838" stroke-width="1.0"/>
<line x1="501.1" y1="451.7" x2="501.1" y2="471.7" stroke="#888" stroke-width="0.6" stroke-dasharray="4 1.5"/>
<line x1="516.8" y1="451.7" x2="516.8" y2="471.7" stroke="#888" stroke-width="0.6" stroke-dasharray="4 1.5"/>
<line x1="495.5" y1="477.9" x2="506.5" y2="477.9" stroke="#888" stroke-width="0.6"/>
<line x1="512.3" y1="477.9" x2="521.3" y2="477.9" stroke="#888" stroke-width="0.6"/>
<line x1="492.3" y1="472.9" x2="492.3" y2="477.7" stroke="#888" stroke-width="0.6"/>
<line x1="524.4" y1="472.9" x2="524.4" y2="477.7" stroke="#888" stroke-width="0.6"/>
<line x1="501.1" y1="473.7" x2="501.1" y2="477.9" stroke="#888" stroke-width="0.6"/>
<line x1="516.8" y1="473.7" x2="516.8" y2="477.9" stroke="#888" stroke-width="0.6"/>
<line x1="461.5" y1="449.7" x2="480.5" y2="449.7" stroke="#a6a9b0" stroke-width="1.2"/>
<line x1="461.5" y1="481.3" x2="474.1" y2="481.3" stroke="#a6a9b0" stroke-width="1.2"/>
<line x1="463.5" y1="449.7" x2="463.5" y2="481.3" stroke="#a6a9b0" stroke-width="1.2"/>
<path d="M463.50 449.70L464.93 453.03L462.07 453.03Z" fill="#262426"/>
<path d="M463.50 481.30L462.07 477.97L464.93 477.97Z" fill="#262426"/>
<text x="447.60 451.10 454.60 459.85 465.10 468.60" y="468.1" font-size="6.656000000000001" text-anchor="middle" transform="rotate(-90 458.1 465.7)" stroke="#504e54" stroke-width="0.12" fill="#504e54">82(※1)</text>
<line x1="501.1" y1="481.3" x2="501.1" y2="494.7" stroke="#a6a9b0" stroke-width="1.2"/>
<line x1="516.8" y1="481.3" x2="516.8" y2="494.7" stroke="#a6a9b0" stroke-width="1.2"/>
<line x1="501.1" y1="492.9" x2="540.1" y2="492.9" stroke="#a6a9b0" stroke-width="1.2"/>
<path d="M501.30 492.90L504.24 491.47L504.24 494.33Z" fill="#262426"/>
<path d="M516.60 492.90L513.66 494.33L513.66 491.47Z" fill="#262426"/>
<text x="523.87 529.32 532.95" y="491.0" font-size="6.448" text-anchor="middle" stroke="#504e54" stroke-width="0.12" fill="#504e54"><tspan font-size="7.61">Φ</tspan>38</text>
<line x1="474.1" y1="481.3" x2="474.1" y2="507.3" stroke="#a6a9b0" stroke-width="1.2"/>
<line x1="544.1" y1="481.3" x2="544.1" y2="507.3" stroke="#a6a9b0" stroke-width="1.2"/>
<line x1="474.1" y1="505.7" x2="544.1" y2="505.7" stroke="#a6a9b0" stroke-width="1.2"/>
<path d="M474.10 505.70L477.43 504.27L477.43 507.13Z" fill="#262426"/>
<path d="M544.10 505.70L540.77 507.13L540.77 504.27Z" fill="#262426"/>
<text x="497.36 502.81 506.45 510.08 513.72 519.17 524.62 528.25" y="502.6" font-size="6.448" text-anchor="middle" stroke="#504e54" stroke-width="0.12" fill="#504e54"><tspan font-size="7.61">□</tspan>180(※1)</text>
<line x1="496.5" y1="388.3" x2="605.5" y2="388.3" stroke="#a6a9b0" stroke-width="1.2"/>
<line x1="546.2" y1="388.3" x2="546.2" y2="481.3" stroke="#3c3838" stroke-width="1.0"/>
<line x1="544.3" y1="464.1" x2="574.8" y2="464.1" stroke="#a6a9b0" stroke-width="1.2"/>
<line x1="544.3" y1="481.1" x2="605.5" y2="481.1" stroke="#a6a9b0" stroke-width="1.2"/>
<line x1="586.9" y1="388.3" x2="586.9" y2="481.1" stroke="#a6a9b0" stroke-width="1.2"/>
<path d="M586.90 388.30L588.33 391.63L585.47 391.63Z" fill="#262426"/>
<path d="M586.90 416.60L585.47 413.66L588.33 413.66Z" fill="#262426"/>
<path d="M586.90 416.60L588.33 419.54L585.47 419.54Z" fill="#262426"/>
<path d="M586.90 481.10L585.47 477.77L588.33 477.77Z" fill="#262426"/>
<line x1="602.1" y1="388.3" x2="602.1" y2="481.1" stroke="#a6a9b0" stroke-width="1.2"/>
<path d="M602.10 388.30L603.53 391.63L600.67 391.63Z" fill="#262426"/>
<path d="M602.10 481.10L600.67 477.77L603.53 477.77Z" fill="#262426"/>
<line x1="573.1" y1="433.2" x2="573.1" y2="481.1" stroke="#a6a9b0" stroke-width="1.2"/>
<path d="M573.10 464.10L574.53 467.04L571.67 467.04Z" fill="#262426"/>
<path d="M573.10 481.10L571.67 478.16L574.53 478.16Z" fill="#262426"/>
<text x="588.85 592.35 595.85 599.35" y="406.1" font-size="6.656000000000001" text-anchor="middle" transform="rotate(-90 594.1 403.7)" stroke="#504e54" stroke-width="0.12" fill="#504e54">(75)</text>
<text x="567.60 571.10 574.60 579.85 585.10 588.60" y="451.1" font-size="6.656000000000001" text-anchor="middle" transform="rotate(-90 578.1 448.7)" stroke="#504e54" stroke-width="0.12" fill="#504e54">45(※1)</text>
<text x="581.45 584.95 588.45 591.95 597.20 602.45 605.95" y="451.1" font-size="6.656000000000001" text-anchor="middle" transform="rotate(-90 593.7 448.7)" stroke="#504e54" stroke-width="0.12" fill="#504e54">167(※1)</text>
<text x="596.25 599.75 603.25 606.75 612.00 617.25 620.75" y="431.7" font-size="6.656000000000001" text-anchor="middle" transform="rotate(-90 608.5 429.3)" stroke="#504e54" stroke-width="0.12" fill="#504e54">242(※1)</text>
<text x="554.45 559.90 563.53 567.17" y="444.0" font-size="6.448" text-anchor="middle" stroke="#504e54" stroke-width="0.12" fill="#504e54"><tspan font-size="7.61">Φ</tspan>150</text>
<line x1="537.3" y1="448.1" x2="566.0" y2="448.1" stroke="#a6a9b0" stroke-width="1.2"/>
<line x1="193.5" y1="581.7" x2="193.5" y2="602.0" stroke="#a6a9b0" stroke-width="1.2"/>
<line x1="248.2" y1="581.7" x2="248.2" y2="602.0" stroke="#a6a9b0" stroke-width="1.2"/>
<line x1="193.5" y1="584.5" x2="248.2" y2="584.5" stroke="#a6a9b0" stroke-width="1.2"/>
<path d="M193.50 584.50L196.83 583.07L196.83 585.93Z" fill="#262426"/>
<path d="M248.20 584.50L244.87 585.93L244.87 583.07Z" fill="#262426"/>
<text x="214.77 220.40 224.15 227.90" y="581.5" font-size="6.656000000000001" text-anchor="middle" stroke="#504e54" stroke-width="0.12" fill="#504e54"><tspan font-size="7.85">□</tspan>140</text>
<text x="254.92 258.67 264.30 269.93 273.68" y="583.0" font-size="6.656000000000001" text-anchor="middle" stroke="#504e54" stroke-width="0.12" fill="#504e54">4-<tspan font-size="7.85">Φ</tspan>11</text>
<path d="M273.6 585.0H251.9L244.6 601.0" fill="none" stroke="#4a4a4c" stroke-width="0.9"/>
<path d="M244.00 602.60L244.03 599.18L246.52 600.29Z" fill="#262426"/>
<line x1="189.6" y1="608.9" x2="272.4" y2="656.2" stroke="#a6a9b0" stroke-width="0.75"/>
<line x1="193.4" y1="642.7" x2="270.9" y2="596.0" stroke="#a6a9b0" stroke-width="0.75"/>
<path d="M189.60 608.90L193.17 609.38L191.80 611.75Z" fill="#262426"/>
<path d="M251.60 644.50L248.20 644.11L249.57 641.75Z" fill="#262426"/>
<path d="M247.20 611.80L245.34 614.45L243.97 612.09Z" fill="#262426"/>
<path d="M193.40 642.70L195.26 640.05L196.63 642.41Z" fill="#262426"/>
<text x="255.32 260.60 264.12 267.63" y="599.0" font-size="6.24" text-anchor="middle" transform="rotate(-31 260.6 596.8)" stroke="#504e54" stroke-width="0.12" fill="#504e54"><tspan font-size="7.36">Φ</tspan>185</text>
<text x="259.32 264.60 268.12 271.63" y="646.8" font-size="6.24" text-anchor="middle" transform="rotate(31 264.6 644.6)" stroke="#504e54" stroke-width="0.12" fill="#504e54"><tspan font-size="7.36">Φ</tspan>185</text>
<line x1="189.8" y1="626.9" x2="251.9" y2="626.9" stroke="#505054" stroke-width="1.0"/>
<path d="M198.3 599.7H243.3Q248.3 599.7 248.3 604.7Q250.0 626.9 248.3 648.8Q248.3 653.8 243.3 653.8H198.3Q193.3 653.8 193.3 648.8Q191.6 626.9 193.3 604.7Q193.3 599.7 198.3 599.7Z" fill="none" stroke="#3c3838" stroke-width="1.3"/>
<path d="M195.5 605.7Q194.2 626.9 195.5 647.8" fill="none" stroke="#3c3838" stroke-width="0.7"/>
<path d="M246.1 605.7Q247.4 626.9 246.1 647.8" fill="none" stroke="#3c3838" stroke-width="0.7"/>
<path d="M211.0 599.7Q221.0 597.5 231.0 599.7" fill="none" stroke="#3c3838" stroke-width="0.8"/>
<path d="M211.0 653.8Q221.0 656.4 231.0 653.8" fill="none" stroke="#3c3838" stroke-width="0.8"/>
<circle cx="220.9" cy="626.9" r="25.3" fill="none" stroke="#3c3838" stroke-width="1.2"/>
<circle cx="220.9" cy="626.9" r="11.6" fill="none" stroke="#3c3838" stroke-width="1.1"/>
<circle cx="220.9" cy="626.9" r="7.6" fill="none" stroke="#3c3838" stroke-width="1.4"/>
<circle cx="220.9" cy="626.9" r="5.4" fill="none" stroke="#777" stroke-width="0.6"/>
<circle cx="220.9" cy="626.9" r="3.2" fill="none" stroke="#3c3838" stroke-width="1.0"/>
<rect x="226.2" y="625.0" width="2.8" height="3.6" rx="0" fill="none" stroke="#3c3838" stroke-width="0.6"/>
<circle cx="198.3" cy="604.5" r="2.1" fill="none" stroke="#3c3838" stroke-width="1.3"/>
<circle cx="243.5" cy="604.5" r="2.1" fill="none" stroke="#3c3838" stroke-width="1.3"/>
<circle cx="198.3" cy="649.4" r="2.1" fill="none" stroke="#3c3838" stroke-width="1.3"/>
<circle cx="243.5" cy="649.4" r="2.1" fill="none" stroke="#3c3838" stroke-width="1.3"/>
<line x1="221.2" y1="597.2" x2="221.2" y2="717.8" stroke="#5c5c60" stroke-width="0.9"/>
<line x1="191.7" y1="644.5" x2="191.7" y2="672.6" stroke="#3c3838" stroke-width="0.9"/>
<line x1="250.2" y1="644.5" x2="250.2" y2="672.6" stroke="#3c3838" stroke-width="0.9"/>
<line x1="191.7" y1="660.8" x2="250.2" y2="660.8" stroke="#777" stroke-width="0.9"/>
<line x1="193.6" y1="646.0" x2="193.6" y2="672.6" stroke="#888" stroke-width="0.7"/>
<line x1="248.4" y1="646.0" x2="248.4" y2="672.6" stroke="#888" stroke-width="0.7"/>
<rect x="191.4" y="673.2" width="59.0" height="11.6" rx="0" fill="none" stroke="#3c3838" stroke-width="1.5"/>
<rect x="186.0" y="684.8" width="70.0" height="28.8" rx="0" fill="none" stroke="#3c3838" stroke-width="1.25"/>
<line x1="406.8" y1="550.6" x2="406.8" y2="624.3" stroke="#a6a9b0" stroke-width="1.2"/>
<line x1="539.9" y1="550.6" x2="539.9" y2="661.0" stroke="#a6a9b0" stroke-width="1.2"/>
<line x1="406.8" y1="554.5" x2="539.9" y2="554.5" stroke="#a6a9b0" stroke-width="1.2"/>
<path d="M406.80 554.50L410.13 553.07L410.13 555.93Z" fill="#262426"/>
<path d="M539.90 554.50L536.57 555.93L536.57 553.07Z" fill="#262426"/>
<text x="464.00 467.75 471.50 475.25 479.00" y="553.4" font-size="6.656000000000001" text-anchor="middle" stroke="#504e54" stroke-width="0.12" fill="#504e54">343.5</text>
<line x1="406.8" y1="566.3" x2="539.9" y2="566.3" stroke="#a6a9b0" stroke-width="1.2"/>
<path d="M406.80 566.30L409.74 564.87L409.74 567.73Z" fill="#262426"/>
<path d="M443.90 566.30L440.96 567.73L440.96 564.87Z" fill="#262426"/>
<path d="M443.90 566.30L446.84 564.87L446.84 567.73Z" fill="#262426"/>
<path d="M509.40 566.30L506.46 567.73L506.46 564.87Z" fill="#262426"/>
<path d="M509.40 566.30L512.34 564.87L512.34 567.73Z" fill="#262426"/>
<path d="M539.90 566.30L536.96 567.73L536.96 564.87Z" fill="#262426"/>
<text x="423.82 427.58" y="564.7" font-size="6.656000000000001" text-anchor="middle" stroke="#504e54" stroke-width="0.12" fill="#504e54">97</text>
<text x="472.95 476.70 480.45" y="564.7" font-size="6.656000000000001" text-anchor="middle" stroke="#504e54" stroke-width="0.12" fill="#504e54">169</text>
<text x="515.26 518.77 522.29 525.81 529.33 532.84" y="561.5" font-size="6.24" text-anchor="middle" stroke="#504e54" stroke-width="0.12" fill="#504e54">(77.5)</text>
<line x1="443.9" y1="562.5" x2="443.9" y2="605.0" stroke="#a6a9b0" stroke-width="1.2"/>
<line x1="429.5" y1="576.6" x2="464.0" y2="576.6" stroke="#a6a9b0" stroke-width="1.2"/>
<line x1="439.7" y1="571.8" x2="439.7" y2="607.5" stroke="#a6a9b0" stroke-width="1.2"/>
<line x1="448.5" y1="571.8" x2="448.5" y2="605.0" stroke="#a6a9b0" stroke-width="1.2"/>
<path d="M439.70 576.60L436.76 578.03L436.76 575.17Z" fill="#262426"/>
<path d="M443.90 576.60L446.84 575.17L446.84 578.03Z" fill="#262426"/>
<path d="M443.90 576.60L440.96 578.03L440.96 575.17Z" fill="#262426"/>
<path d="M448.50 576.60L451.44 575.17L451.44 578.03Z" fill="#262426"/>
<text x="432.10" y="574.1" font-size="6.656000000000001" text-anchor="middle" stroke="#504e54" stroke-width="0.12" fill="#504e54">4</text>
<text x="456.02 459.78" y="574.1" font-size="6.656000000000001" text-anchor="middle" stroke="#504e54" stroke-width="0.12" fill="#504e54">10</text>
<line x1="455.9" y1="585.0" x2="455.9" y2="658.8" stroke="#a6a9b0" stroke-width="1.2"/>
<path d="M455.90 605.20L457.33 608.14L454.47 608.14Z" fill="#262426"/>
<path d="M455.90 658.60L454.47 655.66L457.33 655.66Z" fill="#262426"/>
<line x1="475.4" y1="585.0" x2="475.4" y2="660.2" stroke="#a6a9b0" stroke-width="1.2"/>
<path d="M475.40 603.80L476.83 606.74L473.97 606.74Z" fill="#262426"/>
<path d="M475.40 660.60L473.97 657.66L476.83 657.66Z" fill="#262426"/>
<text x="456.07 461.70 465.45 469.20" y="594.6" font-size="6.656000000000001" text-anchor="middle" transform="rotate(-90 461.7 592.2)" stroke="#504e54" stroke-width="0.12" fill="#504e54"><tspan font-size="7.85">Φ</tspan>140</text>
<text x="475.47 481.10 484.85 488.60" y="594.6" font-size="6.656000000000001" text-anchor="middle" transform="rotate(-90 481.1 592.2)" stroke="#504e54" stroke-width="0.12" fill="#504e54"><tspan font-size="7.85">Φ</tspan>150</text>
<line x1="406.8" y1="602.6" x2="439.1" y2="602.6" stroke="#a6a9b0" stroke-width="1.2"/>
<path d="M406.80 602.60L410.13 601.17L410.13 604.03Z" fill="#262426"/>
<path d="M439.10 602.60L435.77 604.03L435.77 601.17Z" fill="#262426"/>
<text x="421.22 424.98" y="598.9" font-size="6.656000000000001" text-anchor="middle" stroke="#504e54" stroke-width="0.12" fill="#504e54">82</text>
<line x1="406.8" y1="616.0" x2="430.8" y2="616.0" stroke="#a6a9b0" stroke-width="1.2"/>
<path d="M406.80 616.00L410.13 614.57L410.13 617.43Z" fill="#262426"/>
<path d="M430.80 616.00L427.47 617.43L427.47 614.57Z" fill="#262426"/>
<text x="416.42 420.18" y="614.6" font-size="6.656000000000001" text-anchor="middle" stroke="#504e54" stroke-width="0.12" fill="#504e54">65</text>
<line x1="430.8" y1="612.0" x2="430.8" y2="629.0" stroke="#a6a9b0" stroke-width="1.2"/>
<line x1="392.1" y1="624.3" x2="406.2" y2="624.3" stroke="#a6a9b0" stroke-width="1.2"/>
<line x1="392.1" y1="639.4" x2="406.2" y2="639.4" stroke="#a6a9b0" stroke-width="1.2"/>
<line x1="394.0" y1="624.3" x2="394.0" y2="639.4" stroke="#a6a9b0" stroke-width="1.2"/>
<path d="M394.00 624.30L395.43 627.63L392.57 627.63Z" fill="#262426"/>
<path d="M394.00 639.40L392.57 636.07L395.43 636.07Z" fill="#262426"/>
<text x="376.15 381.32 384.77 388.22 391.67 395.12 398.57" y="634.5" font-size="6.448" text-anchor="middle" transform="rotate(-90 386.5 632.2)" stroke="#504e54" stroke-width="0.12" fill="#504e54"><tspan font-size="7.61">Φ</tspan>40(j6)</text>
<line x1="377.7" y1="607.9" x2="439.0" y2="607.9" stroke="#a6a9b0" stroke-width="1.2"/>
<line x1="377.7" y1="656.9" x2="439.0" y2="656.9" stroke="#a6a9b0" stroke-width="1.2"/>
<line x1="379.8" y1="607.9" x2="379.8" y2="656.9" stroke="#a6a9b0" stroke-width="1.2"/>
<path d="M379.80 607.90L381.23 611.23L378.37 611.23Z" fill="#262426"/>
<path d="M379.80 656.90L378.37 653.57L381.23 653.57Z" fill="#262426"/>
<text x="359.48 365.40 369.35 373.30 377.25 381.20 385.15 389.10" y="634.6" font-size="6.656000000000001" text-anchor="middle" transform="rotate(-90 373.3 632.2)" stroke="#504e54" stroke-width="0.12" fill="#504e54"><tspan font-size="7.85">Φ</tspan>130(g6)</text>
<line x1="402.5" y1="631.9" x2="584.3" y2="631.9" stroke="#777" stroke-width="0.7"/>
<line x1="509.4" y1="562.5" x2="509.4" y2="703.0" stroke="#777" stroke-width="0.7"/>
<rect x="406.2" y="624.3" width="32.1" height="15.1" rx="0" fill="none" stroke="#3c3838" stroke-width="1.0"/>
<path d="M406.2 629.4H433.1L435.5 631.9L433.1 634.6H406.2" fill="none" stroke="#3c3838" stroke-width="0.9"/>
<line x1="433.1" y1="629.4" x2="433.1" y2="634.6" stroke="#3c3838" stroke-width="0.6"/>
<line x1="407.5" y1="632.0" x2="432.5" y2="632.0" stroke="#aaa" stroke-width="0.5"/>
<rect x="439.1" y="607.6" width="4.6" height="50.2" rx="0.8" fill="none" stroke="#3c3838" stroke-width="1.1"/>
<line x1="438.4" y1="615.0" x2="438.4" y2="649.0" stroke="#3c3838" stroke-width="0.8"/>
<rect x="443.7" y="605.0" width="16.6" height="53.8" rx="0" fill="none" stroke="#3c3838" stroke-width="1.0"/>
<line x1="447.8" y1="605.0" x2="447.8" y2="658.8" stroke="#3c3838" stroke-width="0.7"/>
<line x1="451.8" y1="605.0" x2="451.8" y2="658.8" stroke="#9a9a9e" stroke-width="0.5"/>
<path d="M460.3 605.0Q460.3 603.5 462.1 603.5H495.9V605.2" fill="none" stroke="#3c3838" stroke-width="1.0"/>
<path d="M460.3 658.8Q460.3 660.9 462.1 660.9H480.5" fill="none" stroke="#3c3838" stroke-width="1.0"/>
<line x1="460.9" y1="604.0" x2="460.9" y2="660.0" stroke="#3c3838" stroke-width="1.3"/>
<line x1="462.9" y1="604.0" x2="462.9" y2="660.0" stroke="#8a8a8e" stroke-width="0.5"/>
<line x1="472.1" y1="603.5" x2="472.1" y2="660.9" stroke="#3c3838" stroke-width="0.8"/>
<line x1="480.1" y1="603.5" x2="480.1" y2="661.5" stroke="#3c3838" stroke-width="1.3"/>
<line x1="496.1" y1="605.0" x2="496.1" y2="646.0" stroke="#3c3838" stroke-width="0.9"/>
<rect x="495.7" y="605.6" width="1.4" height="2.2" rx="0" fill="#3c3838" stroke="#3c3838" stroke-width="0.6"/>
<rect x="495.7" y="624.0" width="1.4" height="2.2" rx="0" fill="#3c3838" stroke="#3c3838" stroke-width="0.6"/>
<rect x="495.7" y="631.4" width="1.4" height="2.2" rx="0" fill="#3c3838" stroke="#3c3838" stroke-width="0.6"/>
<rect x="495.7" y="639.2" width="1.4" height="2.2" rx="0" fill="#3c3838" stroke="#3c3838" stroke-width="0.6"/>
<path d="M496.1 628.0H480.7V636.2H496.1" fill="none" stroke="#3c3838" stroke-width="0.9"/>
<line x1="480.7" y1="630.9" x2="496.1" y2="630.9" stroke="#3c3838" stroke-width="0.8"/>
<path d="M497.1 607.4H512.0C522.5 607.4 530.5 616.0 530.5 626.0V646.0" fill="none" stroke="#3c3838" stroke-width="1.0"/>
<path d="M496.1 646.0H538.9V660.9" fill="none" stroke="#3c3838" stroke-width="1.0"/>
<line x1="480.5" y1="660.9" x2="538.9" y2="660.9" stroke="#3c3838" stroke-width="1.3"/>
<line x1="480.7" y1="660.6" x2="495.9" y2="646.2" stroke="#3c3838" stroke-width="0.9"/>
<line x1="505.1" y1="646.0" x2="505.1" y2="660.9" stroke="#3c3838" stroke-width="0.9"/>
<line x1="506.9" y1="646.0" x2="506.9" y2="660.9" stroke="#9a9a9e" stroke-width="0.5"/>
<line x1="511.1" y1="646.0" x2="511.1" y2="660.9" stroke="#9a9a9e" stroke-width="0.5"/>
<line x1="513.3" y1="646.0" x2="513.3" y2="660.9" stroke="#3c3838" stroke-width="0.9"/>
<rect x="480.5" y="660.9" width="58.4" height="11.9" rx="0" fill="none" stroke="#3c3838" stroke-width="1.0"/>
<line x1="481.5" y1="665.4" x2="537.5" y2="665.4" stroke="#777" stroke-width="0.6"/>
<path d="M480.90 665.40L483.84 663.97L483.84 666.83Z" fill="#262426"/>
<path d="M538.10 665.40L535.16 666.83L535.16 663.97Z" fill="#262426"/>
<line x1="462.5" y1="668.8" x2="510.5" y2="668.8" stroke="#999" stroke-width="0.6"/>
<rect x="479.3" y="673.0" width="60.8" height="11.8" rx="0" fill="none" stroke="#3c3838" stroke-width="1.2"/>
<line x1="480.5" y1="677.9" x2="538.9" y2="677.9" stroke="#777" stroke-width="0.6"/>
<path d="M479.70 677.90L482.64 676.47L482.64 679.33Z" fill="#262426"/>
<path d="M539.50 677.90L536.56 679.33L536.56 676.47Z" fill="#262426"/>
<rect x="474.5" y="684.8" width="70.1" height="28.6" rx="0" fill="none" stroke="#3c3838" stroke-width="1.1"/>
<line x1="499.9" y1="667.0" x2="499.9" y2="710.4" stroke="#888" stroke-width="0.6" stroke-dasharray="4 1.5"/>
<line x1="519.0" y1="667.0" x2="519.0" y2="710.4" stroke="#888" stroke-width="0.6" stroke-dasharray="4 1.5"/>
<path d="M495.1 685.0V699.6H504.5" fill="none" stroke="#888" stroke-width="0.6" stroke-dasharray="5 1.5"/>
<path d="M524.8 685.0V699.6H514.5" fill="none" stroke="#888" stroke-width="0.6" stroke-dasharray="5 1.5"/>
<line x1="462.5" y1="713.4" x2="474.5" y2="713.4" stroke="#a6a9b0" stroke-width="1.2"/>
<line x1="464.7" y1="668.8" x2="464.7" y2="713.4" stroke="#a6a9b0" stroke-width="1.2"/>
<path d="M464.70 668.80L466.13 672.13L463.27 672.13Z" fill="#262426"/>
<path d="M464.70 713.40L463.27 710.07L466.13 710.07Z" fill="#262426"/>
<text x="447.65 451.15 454.65 458.15 463.40 468.65 472.15" y="692.0" font-size="6.656000000000001" text-anchor="middle" transform="rotate(-90 459.9 689.6)" stroke="#504e54" stroke-width="0.12" fill="#504e54">118(※1)</text>
<line x1="499.9" y1="710.4" x2="541.5" y2="710.4" stroke="#a6a9b0" stroke-width="1.2"/>
<path d="M500.10 710.40L503.04 708.97L503.04 711.83Z" fill="#262426"/>
<path d="M518.80 710.40L515.86 711.83L515.86 708.97Z" fill="#262426"/>
<text x="526.27 531.72 535.35" y="708.7" font-size="6.448" text-anchor="middle" stroke="#504e54" stroke-width="0.12" fill="#504e54"><tspan font-size="7.61">Φ</tspan>48</text>
<line x1="474.5" y1="713.4" x2="474.5" y2="726.8" stroke="#a6a9b0" stroke-width="1.2"/>
<line x1="544.6" y1="713.4" x2="544.6" y2="726.8" stroke="#a6a9b0" stroke-width="1.2"/>
<line x1="474.5" y1="725.1" x2="544.6" y2="725.1" stroke="#a6a9b0" stroke-width="1.2"/>
<path d="M474.50 725.10L477.83 723.67L477.83 726.53Z" fill="#262426"/>
<path d="M544.60 725.10L541.27 726.53L541.27 723.67Z" fill="#262426"/>
<text x="494.76 500.21 503.85 507.48 511.12 516.57 522.02 525.65" y="722.5" font-size="6.448" text-anchor="middle" stroke="#504e54" stroke-width="0.12" fill="#504e54"><tspan font-size="7.61">□</tspan>180(※1)</text>
<line x1="496.5" y1="603.9" x2="601.2" y2="603.9" stroke="#a6a9b0" stroke-width="1.2"/>
<line x1="544.6" y1="684.8" x2="563.0" y2="684.8" stroke="#a6a9b0" stroke-width="1.2"/>
<line x1="544.6" y1="713.4" x2="601.2" y2="713.4" stroke="#a6a9b0" stroke-width="1.2"/>
<line x1="583.3" y1="603.9" x2="583.3" y2="713.4" stroke="#a6a9b0" stroke-width="1.2"/>
<path d="M583.30 603.90L584.73 607.23L581.87 607.23Z" fill="#262426"/>
<path d="M583.30 631.90L581.87 628.96L584.73 628.96Z" fill="#262426"/>
<path d="M583.30 631.90L584.73 634.84L581.87 634.84Z" fill="#262426"/>
<path d="M583.30 713.40L581.87 710.07L584.73 710.07Z" fill="#262426"/>
<line x1="599.7" y1="603.9" x2="599.7" y2="713.4" stroke="#a6a9b0" stroke-width="1.2"/>
<path d="M599.70 603.90L601.13 607.23L598.27 607.23Z" fill="#262426"/>
<path d="M599.70 713.40L598.27 710.07L601.13 710.07Z" fill="#262426"/>
<line x1="561.6" y1="684.8" x2="561.6" y2="713.4" stroke="#a6a9b0" stroke-width="1.2"/>
<path d="M561.60 684.80L563.03 688.13L560.17 688.13Z" fill="#262426"/>
<path d="M561.60 713.40L560.17 710.07L563.03 710.07Z" fill="#262426"/>
<text x="572.65 576.15 579.65 583.15" y="621.4" font-size="6.656000000000001" text-anchor="middle" transform="rotate(-90 577.9 619.0)" stroke="#504e54" stroke-width="0.12" fill="#504e54">(75)</text>
<text x="556.60 560.10 563.60 568.85 574.10 577.60" y="700.8" font-size="6.656000000000001" text-anchor="middle" transform="rotate(-90 567.1 698.4)" stroke="#504e54" stroke-width="0.12" fill="#504e54">75(※1)</text>
<text x="577.05 580.55 584.05 587.55 592.80 598.05 601.55" y="674.4" font-size="6.656000000000001" text-anchor="middle" transform="rotate(-90 589.3 672.0)" stroke="#504e54" stroke-width="0.12" fill="#504e54">213(※1)</text>
<text x="593.85 597.35 600.85 604.35 609.60 614.85 618.35" y="656.8" font-size="6.656000000000001" text-anchor="middle" transform="rotate(-90 606.1 654.4)" stroke="#504e54" stroke-width="0.12" fill="#504e54">288(※1)</text>
<text x="546.45 551.90 555.53 559.17" y="663.3" font-size="6.448" text-anchor="middle" stroke="#504e54" stroke-width="0.12" fill="#504e54"><tspan font-size="7.61">Φ</tspan>150</text>
<line x1="538.5" y1="665.4" x2="562.3" y2="665.4" stroke="#a6a9b0" stroke-width="1.2"/>
<text x="547.25 552.70 556.33 559.97" y="675.8" font-size="6.448" text-anchor="middle" stroke="#504e54" stroke-width="0.12" fill="#504e54"><tspan font-size="7.61">Φ</tspan>155</text>
<line x1="539.9" y1="677.9" x2="564.5" y2="677.9" stroke="#a6a9b0" stroke-width="1.2"/>
<text x="97.60 100.80 104.00 108.80 115.20 120.00 123.20" y="785.0" font-size="4.6" text-anchor="middle" fill="#555358">M16<tspan font-size="5.6">深</tspan><tspan font-size="5.6">度</tspan>36</text>
<text x="103.00 106.20 109.40 112.60 115.80" y="794.3" font-size="4.6" text-anchor="middle" fill="#555358">Depth</text>
<path d="M96 787.2H124.8L131.4 812.6" fill="none" stroke="#666" stroke-width="0.6"/>
<path d="M132.20 814.80L130.16 812.28L132.81 811.62Z" fill="#262426"/>
<path d="M148.5 815.6A14.1 14.1 0 1 0 148.6 823.6" fill="none" stroke="#3c3838" stroke-width="1.1"/>
<rect x="144.6" y="815.6" width="7.8" height="8.0" rx="0" fill="none" stroke="#3c3838" stroke-width="1.0"/>
<circle cx="135.0" cy="819.8" r="4.2" fill="none" stroke="#3c3838" stroke-width="1.1"/>
<line x1="115.8" y1="819.8" x2="126.0" y2="819.8" stroke="#6a6a6e" stroke-width="0.8"/>
<line x1="129.0" y1="819.8" x2="141.0" y2="819.8" stroke="#6a6a6e" stroke-width="0.8"/>
<line x1="147.0" y1="819.8" x2="158.4" y2="819.8" stroke="#6a6a6e" stroke-width="0.8"/>
<line x1="135.0" y1="795.2" x2="135.0" y2="805.0" stroke="#6a6a6e" stroke-width="0.8"/>
<line x1="135.0" y1="811.0" x2="135.0" y2="828.0" stroke="#6a6a6e" stroke-width="0.8"/>
<line x1="135.0" y1="831.0" x2="135.0" y2="838.0" stroke="#6a6a6e" stroke-width="0.8"/>
<line x1="136.2" y1="792.8" x2="159.8" y2="792.8" stroke="#6a6a6e" stroke-width="0.8"/>
<line x1="144.2" y1="789.8" x2="144.2" y2="852.0" stroke="#6a6a6e" stroke-width="0.8"/>
<line x1="149.6" y1="789.8" x2="149.6" y2="815.4" stroke="#6a6a6e" stroke-width="0.8"/>
<path d="M144.20 792.80L141.26 794.16L141.26 791.43Z" fill="#262426"/>
<path d="M149.60 792.80L152.54 791.43L152.54 794.16Z" fill="#262426"/>
<text x="158.60" y="792.0" font-size="4.992" text-anchor="middle" stroke="#504e54" stroke-width="0.12" fill="#504e54">5</text>
<line x1="152.4" y1="815.6" x2="168.0" y2="815.6" stroke="#6a6a6e" stroke-width="0.8"/>
<line x1="152.4" y1="823.0" x2="168.0" y2="823.0" stroke="#6a6a6e" stroke-width="0.8"/>
<line x1="166.6" y1="804.8" x2="166.6" y2="831.4" stroke="#6a6a6e" stroke-width="0.8"/>
<path d="M166.60 815.60L165.23 812.66L167.97 812.66Z" fill="#262426"/>
<path d="M166.60 823.00L167.97 825.94L165.23 825.94Z" fill="#262426"/>
<text x="161.39 164.21" y="810.0" font-size="4.992" text-anchor="middle" transform="rotate(-90 162.8 808.2)" stroke="#504e54" stroke-width="0.12" fill="#504e54">12</text>
<line x1="138.6" y1="850.4" x2="170.6" y2="850.4" stroke="#6a6a6e" stroke-width="0.8"/>
<line x1="151.6" y1="823.6" x2="151.6" y2="852.0" stroke="#6a6a6e" stroke-width="0.8"/>
<path d="M144.20 850.40L141.26 851.76L141.26 849.03Z" fill="#262426"/>
<path d="M151.60 850.40L154.54 849.03L154.54 851.76Z" fill="#262426"/>
<text x="164.40" y="849.2" font-size="4.992" text-anchor="middle" stroke="#504e54" stroke-width="0.12" fill="#504e54">8</text>
<text x="127.95 134.25 140.55 146.85" y="862.8" font-size="6.0" text-anchor="middle" fill="#555358">附带键轴</text>
<text x="117.00 120.20 123.40 126.60 129.80 133.00 136.20 139.40 142.60 145.80 149.00 152.20 155.40 158.60" y="870.0" font-size="4.6" text-anchor="middle" fill="#555358">Shaft with key</text>
<text x="186.20 189.40 192.60 197.40 203.80 208.60 211.80" y="785.6" font-size="4.6" text-anchor="middle" fill="#555358">M16<tspan font-size="5.6">深</tspan><tspan font-size="5.6">度</tspan>36</text>
<text x="191.13 194.58 198.04 201.50 204.95" y="795.0" font-size="4.6" text-anchor="middle" fill="#555358">Depth</text>
<path d="M188.8 788.6H210.4L218.8 812.6" fill="none" stroke="#666" stroke-width="0.6"/>
<path d="M219.60 814.80L217.39 812.43L219.99 811.58Z" fill="#262426"/>
<circle cx="222.2" cy="819.8" r="14.1" fill="none" stroke="#3c3838" stroke-width="1.1"/>
<circle cx="222.2" cy="819.8" r="4.6" fill="none" stroke="#3c3838" stroke-width="1.1"/>
<line x1="196.6" y1="819.8" x2="207.0" y2="819.8" stroke="#6a6a6e" stroke-width="0.8"/>
<line x1="213.0" y1="819.8" x2="219.0" y2="819.8" stroke="#6a6a6e" stroke-width="0.8"/>
<line x1="229.0" y1="819.8" x2="240.0" y2="819.8" stroke="#6a6a6e" stroke-width="0.8"/>
<line x1="246.0" y1="819.8" x2="247.6" y2="819.8" stroke="#6a6a6e" stroke-width="0.8"/>
<line x1="222.2" y1="791.0" x2="222.2" y2="801.2" stroke="#6a6a6e" stroke-width="0.8"/>
<line x1="222.2" y1="806.0" x2="222.2" y2="813.0" stroke="#6a6a6e" stroke-width="0.8"/>
<line x1="222.2" y1="826.0" x2="222.2" y2="834.0" stroke="#6a6a6e" stroke-width="0.8"/>
<line x1="222.2" y1="839.6" x2="222.2" y2="846.8" stroke="#6a6a6e" stroke-width="0.8"/>
<text x="210.15 216.45 222.75" y="863.6" font-size="6.0" text-anchor="middle" fill="#555358">无键轴</text>
<text x="199.80 203.00 206.20 209.40 212.60 215.80 219.00 222.20 225.40 228.60 231.80 235.00" y="870.0" font-size="4.6" text-anchor="middle" fill="#555358">Smooth shaft</text>
</g>
<g filter="url(#soft2)">
<text x="315.15 322.80 330.45 335.55 343.20 353.40 363.60 373.80 384.00 394.20 404.40 414.60 424.80 435.00 445.20 455.40 465.60 475.80" y="780.8" font-size="8.6" text-anchor="middle" stroke="#444246" stroke-width="0.1" fill="#444246">(<tspan font-size="9.5">※</tspan>1)<tspan font-size="9.5">随</tspan><tspan font-size="9.5">安</tspan><tspan font-size="9.5">装</tspan><tspan font-size="9.5">马</tspan><tspan font-size="9.5">达</tspan><tspan font-size="9.5">的</tspan><tspan font-size="9.5">不</tspan><tspan font-size="9.5">同</tspan><tspan font-size="9.5">而</tspan><tspan font-size="9.5">有</tspan><tspan font-size="9.5">所</tspan><tspan font-size="9.5">差</tspan><tspan font-size="9.5">异</tspan><tspan font-size="9.5">。</tspan></text>
<text x="314.35 322.00 329.65 334.75 342.40 352.60 362.80 373.00 383.20 393.40 403.60 413.80 424.00 434.20 444.40 454.60 464.80 475.00 485.20 495.40 505.60 515.80 526.00 536.20 546.40" y="803.8" font-size="8.6" text-anchor="middle" stroke="#444246" stroke-width="0.1" fill="#444246">(<tspan font-size="9.5">※</tspan>1)<tspan font-size="9.5">马</tspan><tspan font-size="9.5">达</tspan><tspan font-size="9.5">轴</tspan><tspan font-size="9.5">径</tspan><tspan font-size="9.5">与</tspan><tspan font-size="9.5">输</tspan><tspan font-size="9.5">入</tspan><tspan font-size="9.5">轴</tspan><tspan font-size="9.5">径</tspan><tspan font-size="9.5">的</tspan><tspan font-size="9.5">不</tspan><tspan font-size="9.5">同</tspan><tspan font-size="9.5">时</tspan><tspan font-size="9.5">，</tspan><tspan font-size="9.5">可</tspan><tspan font-size="9.5">以</tspan><tspan font-size="9.5">插</tspan><tspan font-size="9.5">入</tspan><tspan font-size="9.5">轴</tspan><tspan font-size="9.5">套</tspan><tspan font-size="9.5">。</tspan></text>
<text x="314.74 322.36 329.98 335.06 340.14 345.22 350.30 355.38 360.46 365.54 370.62 375.70 380.78 385.86 390.94 396.02 401.10 406.18 411.26 416.34 421.42 426.50 431.58 436.66 441.74 446.82 451.90 456.98 462.06 467.14 472.22 477.30 482.38 487.46 492.54 497.62 502.70" y="846.1" font-size="8.8" text-anchor="middle" stroke="#444246" stroke-width="0.15" fill="#444246">(<tspan font-size="9.0">※</tspan>1)Length will vary depending motor.</text>
<text x="314.74 322.36 329.98 335.06 340.14 345.22 350.30 355.38 360.46 365.54 370.62 375.70 380.78 385.86 390.94 396.02 401.10 406.18 411.26 416.34 421.42 426.50 431.58 436.66 441.74 446.82 451.90 456.98 462.06 467.14 472.22 477.30 482.38 487.46 492.54 497.62 502.70 507.78 512.86 517.94 523.02 528.10 533.18 538.26 543.34 548.42 553.50 558.58 563.66 568.74 573.82 578.90 583.98" y="868.7" font-size="8.8" text-anchor="middle" stroke="#444246" stroke-width="0.15" fill="#444246">(<tspan font-size="9.0">※</tspan>1)Bushing will be inserted to adapt to motor shaft.</text>
</g>
</svg>
</body>
</html>
